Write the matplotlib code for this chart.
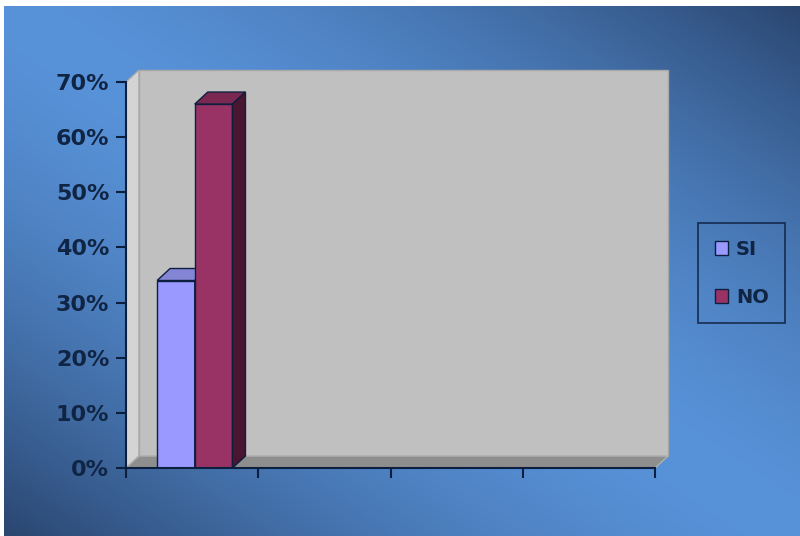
import numpy as np
import matplotlib.pyplot as plt
from matplotlib.colors import to_rgb
from matplotlib.patches import Polygon
from matplotlib.ticker import PercentFormatter

# data
series = ['SI', 'NO']
values = [0.34, 0.66]
front_colors = ['#9999ff', '#993366']
top_colors = ['#8585d6', '#7a2852']
side_colors = ['#5c5ca8', '#4a1530']
n_categories = 4
y_ticks = [0, 0.1, 0.2, 0.3, 0.4, 0.5, 0.6, 0.7]

navy = '#0d1f3f'

fig = plt.figure(figsize=(8, 5.36), dpi=100, facecolor='white')

# gradient background
bg = fig.add_axes([4 / 800, 0, 1 - 4 / 800, 1 - 6 / 536])
H, W = 300, 450
xx, yy = np.meshgrid(np.linspace(0, 1, W), np.linspace(0, 1, H))
t = np.abs(xx - yy) ** 1.6
light = np.array(to_rgb('#5892d8'))
dark = np.array(to_rgb('#2a4670'))
img = light[None, None, :] * (1 - t[..., None]) + dark[None, None, :] * t[..., None]
bg.imshow(img, aspect='auto', extent=[0, 1, 0, 1])
bg.axis('off')

# main plot area (pixel geometry of the reference)
ax = fig.add_axes([126 / 800, (536 - 468) / 536, 529 / 800, 386 / 536])
ax.set_facecolor('none')
ax.set_xlim(0, n_categories)
ax.set_ylim(0, 0.7)

# depth offset in data units (~13 px right, ~12 px up)
dx = 13 / (529 / n_categories)
dy = 12 / (386 / 0.7)
top = y_ticks[-1]

# back wall, side wall, floor
ax.add_patch(Polygon([(dx, dy), (n_categories + dx, dy), (n_categories + dx, top + dy), (dx, top + dy)],
                     closed=True, facecolor='#c0c0c0', edgecolor='#a8a8a8', lw=1, zorder=1, clip_on=False))
ax.add_patch(Polygon([(0, 0), (dx, dy), (dx, top + dy), (0, top)],
                     closed=True, facecolor='#d4d4d4', edgecolor='#a8a8a8', lw=1, zorder=1, clip_on=False))
ax.add_patch(Polygon([(0, 0), (n_categories, 0), (n_categories + dx, dy), (dx, dy)],
                     closed=True, facecolor='#8e8e8e', edgecolor='#b0b0b0', lw=1, zorder=2, clip_on=False))

# bars
bar_w = 0.285
x0 = 0.235
for i, (name, v) in enumerate(zip(series, values)):
    left = x0 + i * bar_w
    ax.bar(left, v, width=bar_w, align='edge', color=front_colors[i], edgecolor=navy,
           lw=1, zorder=4 + i, label=name)
    ax.add_patch(Polygon([(left, v), (left + bar_w, v), (left + bar_w + dx, v + dy), (left + dx, v + dy)],
                         closed=True, facecolor=top_colors[i], edgecolor=navy, lw=1, zorder=4 + i, clip_on=False))
    ax.add_patch(Polygon([(left + bar_w, 0), (left + bar_w + dx, dy), (left + bar_w + dx, v + dy), (left + bar_w, v)],
                         closed=True, facecolor=side_colors[i], edgecolor=navy, lw=1, zorder=4 + i, clip_on=False))

# axes styling
for s in ['top', 'right']:
    ax.spines[s].set_visible(False)
for s in ['left', 'bottom']:
    ax.spines[s].set_color(navy)
    ax.spines[s].set_linewidth(1.5)
    ax.spines[s].set_zorder(10)
ax.set_yticks(y_ticks)
ax.yaxis.set_major_formatter(PercentFormatter(1.0, decimals=0))
ax.set_xticks(range(n_categories + 1))
ax.set_xticklabels([])
ax.tick_params(axis='both', colors=navy, width=1.5, length=7, direction='out')
ax.tick_params(axis='y', labelsize=16, pad=5)
for lbl in ax.get_yticklabels():
    lbl.set_fontweight('bold')
    lbl.set_color('#102444')

# legend
handles = [plt.Rectangle((0, 0), 1, 1, facecolor=c, edgecolor=navy, lw=1) for c in front_colors]
leg = fig.legend(handles, series, loc='upper left', bbox_to_anchor=(698 / 800, 1 - 223 / 536),
                 borderaxespad=0, frameon=True, fancybox=False, handlelength=0.7, handleheight=0.7,
                 handletextpad=0.4, labelspacing=1.5, borderpad=0.85,
                 prop={'weight': 'bold', 'size': 14})
leg.get_frame().set_facecolor('none')
leg.get_frame().set_edgecolor(navy)
leg.get_frame().set_linewidth(1.3)
for txt in leg.get_texts():
    txt.set_color('#102444')

fig.savefig('out.png', dpi=100)
